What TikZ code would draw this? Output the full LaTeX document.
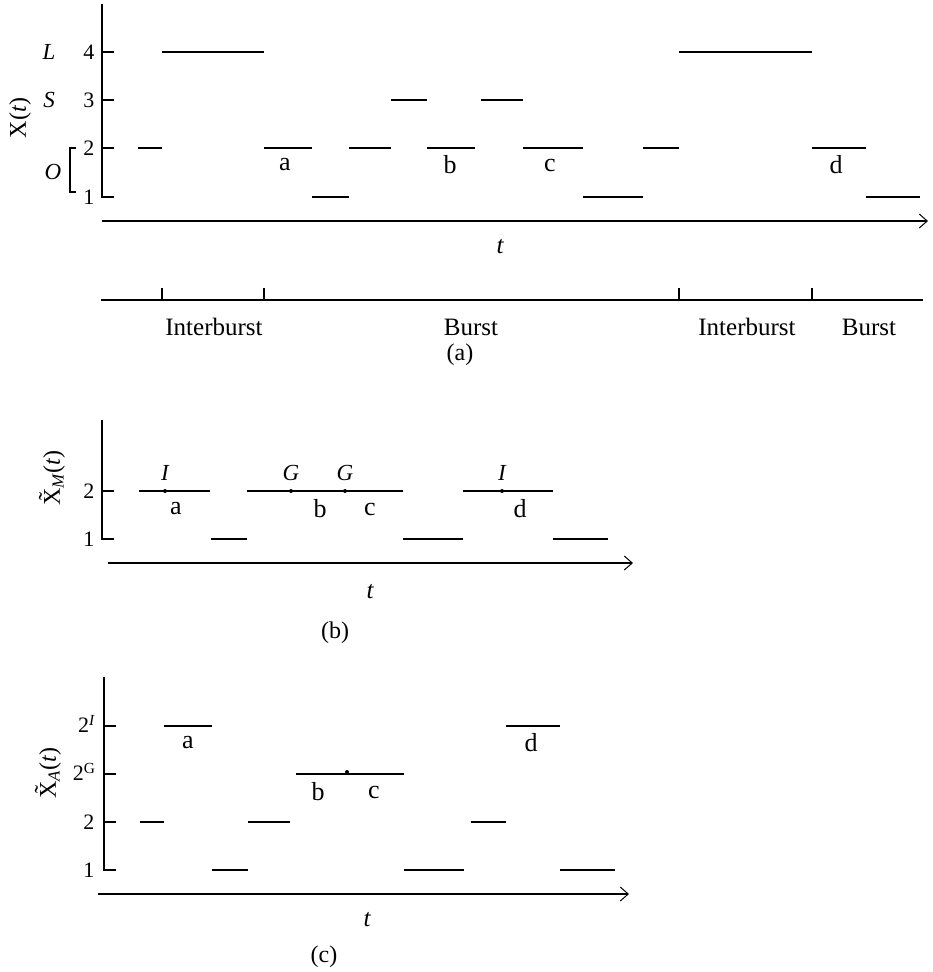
\documentclass[tikz,border=0pt]{standalone}
\usepackage{fontspec}
\setmainfont{Liberation Serif}
\usetikzlibrary{arrows.meta}
\begin{document}
\begin{tikzpicture}[x=1pt,y=-1pt,line width=1.1pt,
  arr/.style={-{Straight Barb[length=8pt,width=14pt,line width=1pt]}},
  num/.style={anchor=east,inner sep=0pt,font=\fontsize{22}{24}\selectfont},
  sym/.style={inner sep=0pt,font=\fontsize{23}{25}\selectfont\itshape},
  lab/.style={inner sep=0pt,font=\fontsize{26}{28}\selectfont},
  word/.style={inner sep=0pt,font=\fontsize{25}{28}\selectfont},
  captext/.style={inner sep=0pt,font=\fontsize{24}{26}\selectfont},
  tlab/.style={inner sep=0pt,font=\fontsize{25}{27}\selectfont\itshape},
  ttl/.style={inner sep=0pt,rotate=90,font=\fontsize{24}{26}\selectfont}]
\useasboundingbox (0,0) rectangle (932,972);

% ================= panel (a) =================
\coordinate (aT) at (102,4);
\coordinate (aO) at (102,197);
\coordinate (aE) at (114,197);
\coordinate (aS) at (102,221);
\coordinate (aA) at (928,221);
\draw (aT) -- (aO) -- (aE);
\foreach \yy in {52,100,148} \draw (102,\yy) -- (114,\yy);
\draw[arr] (aS) -- (aA);
\node[num] (a4) at (95,52) {4};
\node[num] (a3) at (95,100) {3};
\node[num] (a2) at (95,148) {2};
\node[num] (a1) at (95,197) {1};
\node[sym] (aL) at (49,52) {L};
\node[sym] (aSS) at (49,100) {S};
\node[sym] (aOO) at (53,172) {O};
\draw (76,148) -- (70,148) -- (70,192) -- (76,192);
\node[ttl] (aY) at (20,118) {X(\textit{t})};
% segments
\draw (138,148) -- (162,148);
\draw (162,52) -- (264,52);
\draw (264,148) -- (312,148);
\draw (312,197) -- (349,197);
\draw (349,148) -- (391,148);
\draw (391,100) -- (427,100);
\draw (427,148) -- (475,148);
\draw (481,100) -- (523,100);
\draw (523,148) -- (583,148);
\draw (583,197) -- (643,197);
\draw (643,148) -- (679,148);
\draw (679,52) -- (812,52);
\draw (812,148) -- (866,148);
\draw (866,197) -- (920,197);
\node[lab] (la) at (285,165) {a};
\node[lab] (lb) at (450,165) {b};
\node[lab] (lc) at (550,165) {c};
\node[lab] (ld) at (836,165) {d};
\node[tlab] (at) at (500,247) {t};
% burst line
\coordinate (bL) at (101,300);
\coordinate (bR) at (923,300);
\draw (bL) -- (bR);
\foreach \xx in {162,264,679,812} \draw (\xx,288) -- (\xx,300);
\node[word] (w1) at (214,327) {Interburst};
\node[word] (w2) at (471,327) {Burst};
\node[word] (w3) at (747,327) {Interburst};
\node[word] (w4) at (869,327) {Burst};
\node[captext] (capa) at (460,355) {(a)};

% ================= panel (b) =================
\coordinate (bT) at (102,420);
\coordinate (bO) at (102,539);
\coordinate (bE) at (114,539);
\coordinate (bS) at (108,563);
\coordinate (bA) at (633,563);
\draw (bT) -- (bO) -- (bE);
\draw (102,491) -- (114,491);
\draw[arr] (bS) -- (bA);
\node[num] (b2) at (95,491) {2};
\node[num] (b1) at (95,539) {1};
\node[ttl] (bY) at (52,478) {\~{X}\textsubscript{\textit{M}}(\textit{t})};
\draw (139,491) -- (210,491);
\draw (211,539) -- (247,539);
\draw (247,491) -- (403,491);
\draw (403,539) -- (463,539);
\draw (463,491) -- (553,491);
\draw (553,539) -- (608,539);
\fill (165,491) circle (2pt);
\fill (291,491) circle (2pt);
\fill (345,491) circle (2pt);
\fill (502,491) circle (2pt);
\node[sym] (bI1) at (165,473) {I};
\node[sym] (bG1) at (291,473) {G};
\node[sym] (bG2) at (345,473) {G};
\node[sym] (bI2) at (502,473) {I};
\node[lab] (ba) at (176,509) {a};
\node[lab] (bb) at (320,509) {b};
\node[lab] (bc) at (370,509) {c};
\node[lab] (bdd) at (520,509) {d};
\node[tlab] (bt) at (370,592) {t};
\node[captext] (capb) at (335,633) {(b)};

% ================= panel (c) =================
\coordinate (cT) at (104,677);
\coordinate (cO) at (104,870);
\coordinate (cE) at (116,870);
\coordinate (cS) at (98,894);
\coordinate (cA) at (629,894);
\draw (cT) -- (cO) -- (cE);
\foreach \yy in {726,774,822} \draw (104,\yy) -- (116,\yy);
\draw[arr] (cS) -- (cA);
\node[num] (cI) at (96,724) {2\textsuperscript{\textit{I}}};
\node[num] (cG) at (96,772) {2\textsuperscript{G}};
\node[num] (c2) at (95,822) {2};
\node[num] (c1) at (95,870) {1};
\node[ttl] (cY) at (48,773) {\~{X}\textsubscript{\textit{A}}(\textit{t})};
\draw (140,822) -- (164,822);
\draw (164,726) -- (212,726);
\draw (212,870) -- (248,870);
\draw (248,822) -- (290,822);
\draw (296,774) -- (404,774);
\draw (404,870) -- (464,870);
\draw (471,822) -- (506,822);
\draw (506,726) -- (560,726);
\draw (560,870) -- (615,870);
\fill (347,772) circle (2pt);
\node[lab] (ca) at (188,743) {a};
\node[lab] (cb) at (318,792) {b};
\node[lab] (cc) at (374,792) {c};
\node[lab] (cdd) at (531,743) {d};
\node[tlab] (ct) at (367,920) {t};
\node[captext] (capc) at (324,957) {(c)};
\end{tikzpicture}
\end{document}
